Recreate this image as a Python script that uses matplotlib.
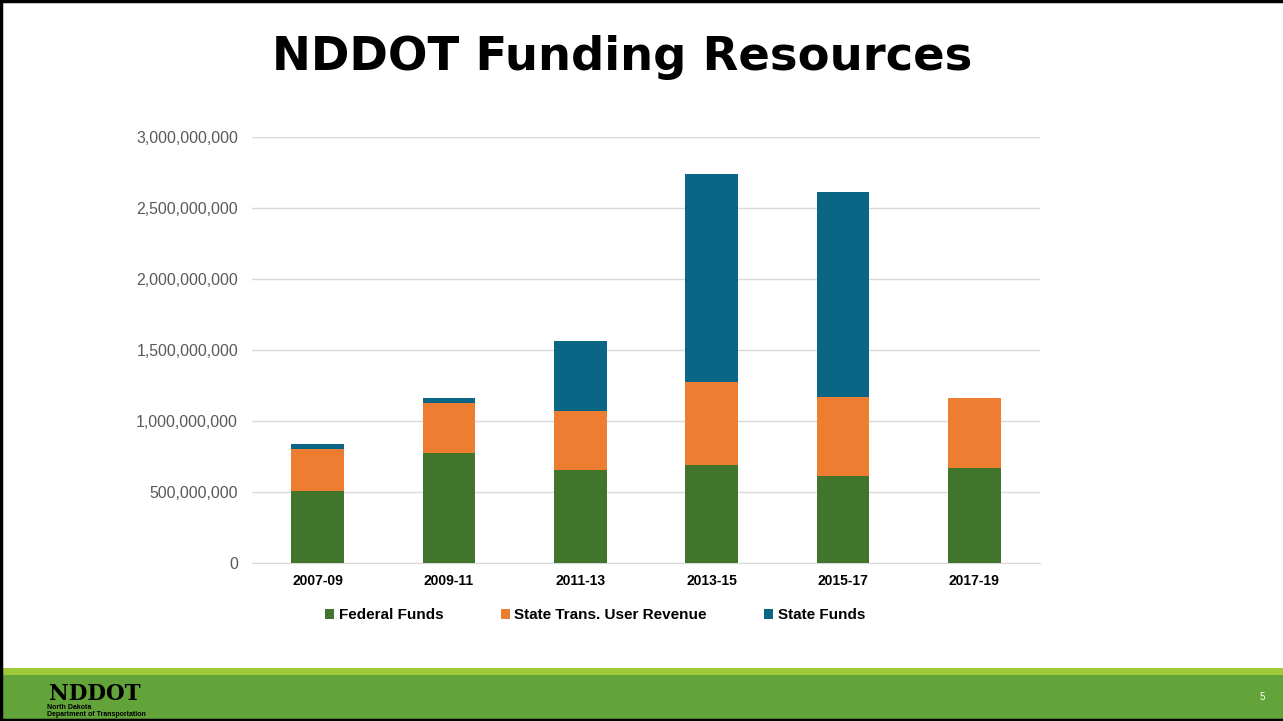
import numpy as np
import matplotlib.pyplot as plt
from matplotlib.patches import Rectangle
from matplotlib.lines import Line2D
from matplotlib.ticker import FuncFormatter

periods = ["2007-09", "2009-11", "2011-13", "2013-15", "2015-17", "2017-19"]
federal = [505e6, 777e6, 655e6, 692e6, 615e6, 669e6]
user_rev = [300e6, 352e6, 415e6, 581e6, 554e6, 493e6]
state = [33e6, 33e6, 493e6, 1464e6, 1446e6, 0]
series_names = ["Federal Funds", "State Trans. User Revenue", "State Funds"]
colors = ["#41752C", "#ED7D31", "#0B6585"]

plt.rcParams['font.family'] = ['Liberation Sans', 'DejaVu Sans']

fig = plt.figure(figsize=(12.83, 7.21), dpi=100)
fig.patch.set_facecolor("white")

# footer bands
fig.patches.append(Rectangle((0, 0), 1, 46 / 721, transform=fig.transFigure,
                             facecolor="#62A33A", edgecolor="none", zorder=0))
fig.patches.append(Rectangle((0, 46 / 721), 1, 7 / 721, transform=fig.transFigure,
                             facecolor="#9DC93B", edgecolor="none", zorder=0))
# slide border
for xs, ys in [([0.001, 0.001], [0, 1]), ([0, 1], [0.998, 0.998]), ([0, 1], [0.002, 0.002])]:
    fig.add_artist(Line2D(xs, ys, transform=fig.transFigure, color="black", lw=2.5))

fig.text(622 / 1283, 1 - 70 / 721, "NDDOT Funding Resources", ha="center", va="baseline",
         fontsize=33.5, fontweight="bold", family="DejaVu Sans", color="black")

ax = fig.add_axes([252 / 1283, 1 - 563 / 721, 788 / 1283, 426 / 721])
x = np.arange(len(periods))
w = 0.4
fed = np.array(federal)
usr = np.array(user_rev)
st = np.array(state)
ax.bar(x, fed, w, color=colors[0], label=series_names[0], zorder=3)
ax.bar(x, usr, w, bottom=fed, color=colors[1], label=series_names[1], zorder=3)
ax.bar(x, st, w, bottom=fed + usr, color=colors[2], label=series_names[2], zorder=3)

ax.set_xlim(-0.5, len(periods) - 0.5)
ax.set_ylim(0, 3e9)
ax.set_yticks(np.arange(0, 3.01e9, 5e8))
ax.yaxis.set_major_formatter(FuncFormatter(lambda v, p: f"{int(v):,}"))
ax.grid(axis="y", color="#D9D9D9", lw=1, zorder=0)
for s in ["top", "right", "left"]:
    ax.spines[s].set_visible(False)
ax.spines["bottom"].set_color("#D9D9D9")
ax.tick_params(length=0)
ax.tick_params(axis="y", labelsize=11.4, labelcolor="#595959", pad=10)
ax.set_xticks(x)
ax.set_xticklabels(periods, fontsize=10, fontweight="bold")
ax.tick_params(axis="x", pad=8)

leg = ax.legend(loc="upper left", bbox_to_anchor=((325 - 252) / 788, -0.106), ncol=3,
                frameon=False, borderpad=0, borderaxespad=0,
                prop={"weight": "bold", "size": 11}, handlelength=0.6, handleheight=0.6,
                handletextpad=0.3, columnspacing=3.75)

# logo
fig.text(0.038, 1 - 700 / 721, "NDDOT", fontsize=15.5, fontweight="bold", family="DejaVu Serif",
         color="black", va="baseline")
fig.text(0.037, 1 - 709 / 721, "North Dakota", fontsize=5, fontweight="bold", color="black",
         va="baseline")
fig.text(0.037, 1 - 715.5 / 721, "Department of Transportation", fontsize=5, fontweight="bold",
         color="black", va="baseline")
fig.text(0.9835, 0.033, "5", fontsize=7, color="white", ha="center", va="center")

fig.savefig("out.png", dpi=100)
